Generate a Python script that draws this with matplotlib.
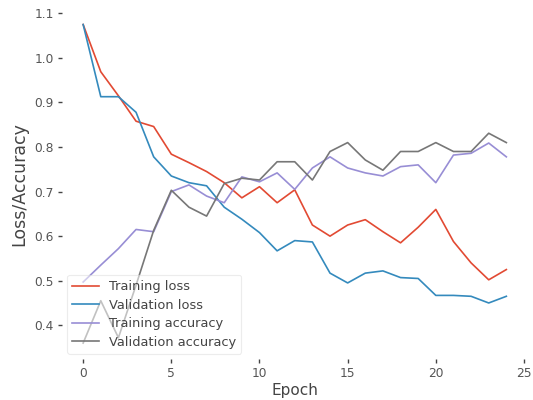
import matplotlib
matplotlib.use("Agg")
import matplotlib.pyplot as plt

epochs = list(range(25))
train_loss = [1.075, 0.969, 0.915, 0.858, 0.846, 0.784, 0.765, 0.745, 0.72, 0.686, 0.711, 0.675, 0.704,
              0.625, 0.600, 0.625, 0.637, 0.610, 0.585, 0.620, 0.660, 0.588, 0.540, 0.502, 0.525]
val_loss = [1.075, 0.913, 0.913, 0.878, 0.778, 0.735, 0.720, 0.713, 0.665, 0.638, 0.608, 0.567, 0.590,
            0.587, 0.517, 0.495, 0.517, 0.522, 0.507, 0.505, 0.467, 0.467, 0.465, 0.450, 0.465]
train_acc = [0.497, 0.535, 0.572, 0.615, 0.610, 0.700, 0.715, 0.690, 0.675, 0.733, 0.722, 0.742, 0.705,
             0.753, 0.778, 0.753, 0.742, 0.735, 0.756, 0.760, 0.720, 0.782, 0.786, 0.809, 0.778]
val_acc = [0.360, 0.455, 0.372, 0.490, 0.613, 0.703, 0.665, 0.645, 0.718, 0.730, 0.726, 0.767, 0.767,
           0.726, 0.790, 0.810, 0.771, 0.748, 0.790, 0.790, 0.810, 0.790, 0.790, 0.831, 0.810]

labels = ["Training loss", "Validation loss", "Training accuracy", "Validation accuracy"]
colors = ["#E24A33", "#348ABD", "#988ED5", "#777777"]
xticks = [0, 5, 10, 15, 20, 25]
yticks = [0.4, 0.5, 0.6, 0.7, 0.8, 0.9, 1.0, 1.1]

fig = plt.figure(figsize=(5.33, 4.0), dpi=100)
ax = fig.add_axes([0.1163, 0.1025, 0.8734, 0.876])

for series, lab, col in zip([train_loss, val_loss, train_acc, val_acc], labels, colors):
    ax.plot(epochs, series, color=col, lw=1.2, label=lab)

for s in ax.spines.values():
    s.set_visible(False)
ax.set_xticks(xticks)
ax.set_yticks(yticks)
ax.set_yticklabels([f"{v:.1f}" for v in yticks])
ax.tick_params(axis="both", length=3, width=1, color="#444444", labelcolor="#555555",
               labelsize=8.8, pad=3)
ax.set_xlabel("Epoch", fontsize=11, color="#444444", labelpad=2)
ax.set_ylabel("Loss/Accuracy", fontsize=12.5, color="#444444", labelpad=4)

leg = ax.legend(loc="lower left", fontsize=9.4, frameon=True, fancybox=True, framealpha=0.55,
                borderpad=0.4, labelspacing=0.42, handlelength=2.0, borderaxespad=0.4)
leg.get_frame().set_edgecolor("#dddddd")
leg.get_frame().set_linewidth(0.8)
for t in leg.get_texts():
    t.set_color("#444444")

fig.savefig("out.png", dpi=100, facecolor="white")
